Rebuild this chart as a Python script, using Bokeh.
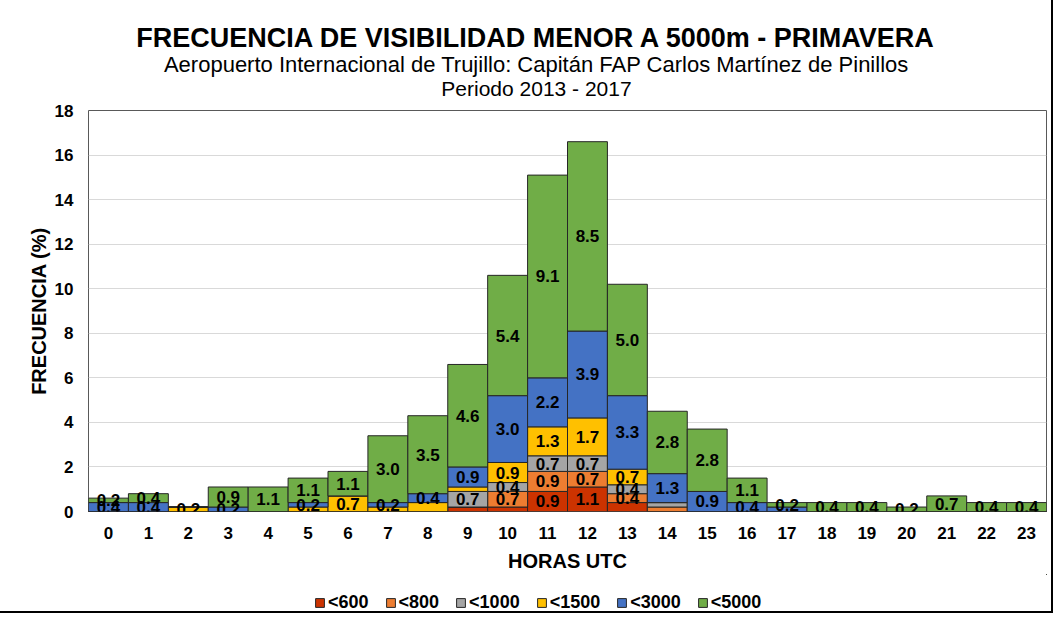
from bokeh.plotting import figure
from bokeh.layouts import column
from bokeh.models import ColumnDataSource, FixedTicker, Legend, LegendItem, Range1d
from bokeh.core.properties import value
from bokeh.embed import file_html
from bokeh.resources import INLINE

hours = list(range(24))
series = ["<600", "<800", "<1000", "<1500", "<3000", "<5000"]
colors = ["#CC3300", "#ED7D31", "#A5A5A5", "#FFC000", "#4472C4", "#70AD47"]

v600 = [0, 0, 0, 0, 0, 0, 0, 0, 0, 0.2, 0.2, 0.9, 1.1, 0.4, 0, 0, 0, 0, 0, 0, 0, 0, 0, 0]
v800 = [0, 0, 0, 0, 0, 0, 0, 0, 0, 0, 0.7, 0.9, 0.7, 0.4, 0.2, 0, 0, 0, 0, 0, 0, 0, 0, 0]
v1000 = [0, 0, 0, 0, 0, 0, 0, 0, 0, 0.7, 0.4, 0.7, 0.7, 0.4, 0.2, 0, 0, 0, 0, 0, 0, 0, 0, 0]
v1500 = [0, 0, 0.2, 0, 0, 0.2, 0.7, 0.2, 0.4, 0.2, 0.9, 1.3, 1.7, 0.7, 0, 0, 0, 0, 0, 0, 0, 0, 0, 0]
v3000 = [0.4, 0.4, 0, 0.2, 0, 0.2, 0, 0.2, 0.4, 0.9, 3.0, 2.2, 3.9, 3.3, 1.3, 0.9, 0.4, 0.2, 0, 0, 0, 0, 0, 0]
v5000 = [0.2, 0.4, 0, 0.9, 1.1, 1.1, 1.1, 3.0, 3.5, 4.6, 5.4, 9.1, 8.5, 5.0, 2.8, 2.8, 1.1, 0.2, 0.4, 0.4, 0.2, 0.7, 0.4, 0.4]
values = [v600, v800, v1000, v1500, v3000, v5000]

# data labels that are not shown in the original
hidden_labels = {(5, "<1500"), (7, "<1500"), (8, "<1500"), (9, "<600"), (9, "<1500"),
                 (10, "<600"), (13, "<600"), (14, "<800"), (14, "<1000"), (17, "<3000")}

y_ticks = [0, 2, 4, 6, 8, 10, 12, 14, 16, 18]

title_main = "FRECUENCIA DE VISIBILIDAD MENOR A 5000m - PRIMAVERA"
title_sub = "Aeropuerto Internacional de Trujillo: Capitán FAP Carlos Martínez de Pinillos"
title_period = "Periodo 2013 - 2017"
x_title = "HORAS UTC"
y_title = "FRECUENCIA (%)"

FONT = "Liberation Sans"
W = 1051
H0 = 100
H1 = 474
H2 = 37
FRAME_L = 88
FRAME_R = 1046

data = {"hour": hours}
for s, v in zip(series, values):
    data[s] = v
src = ColumnDataSource(data)

# label positions
lx, ly, lt = [], [], []
bottoms = [0.0] * len(hours)
for s, v in zip(series, values):
    for i, h in enumerate(hours):
        if v[i] > 0 and (h, s) not in hidden_labels:
            lx.append(h)
            ly.append(bottoms[i] + v[i] / 2)
            lt.append(f"{v[i]:.1f}")
    bottoms = [b + x for b, x in zip(bottoms, v)]
lsrc = ColumnDataSource({"x": lx, "y": ly, "t": lt})

# ---- header with the titles (pixel layout space; its frame is aligned with the chart's frame)
ph = figure(width=W, height=H0, output_backend="svg", toolbar_location=None,
            x_range=Range1d(FRAME_L, FRAME_R), y_range=Range1d(H0, 0),
            x_axis_location=None, y_axis_location=None,
            min_border=0, min_border_left=0, min_border_right=0,
            min_border_top=0, min_border_bottom=0)
ph.grid.visible = False
ph.outline_line_color = None
ph.text(x=[536], y=[37], text=[title_main], text_align="center", text_baseline="middle",
        text_font=value(FONT), text_font_size="27px", text_font_style="bold", text_color="black")
ph.text(x=[536], y=[64], text=[title_sub], text_align="center", text_baseline="middle",
        text_font=value(FONT), text_font_size="22px", text_color="black")
ph.text(x=[536], y=[H0 - 0.5], text=[title_period], text_align="center", text_baseline="bottom",
        text_font=value(FONT), text_font_size="21px", text_color="black")

# ---- main chart
p = figure(width=W, height=H1, output_backend="svg", toolbar_location=None,
           x_range=Range1d(-0.5, 23.5), y_range=Range1d(0, 18),
           min_border_left=FRAME_L, min_border_right=W - FRAME_R,
           min_border_top=10, min_border_bottom=62)

renderers = p.vbar_stack(series, x="hour", width=1.0, color=colors, line_color="#262626",
                         line_width=1, source=src)

p.text(x="x", y="y", text="t", source=lsrc, text_align="center", text_baseline="middle",
       text_font=value(FONT), text_font_size="17px", text_font_style="bold", text_color="black")

p.xgrid.grid_line_color = None
p.ygrid.grid_line_color = "#D9D9D9"
p.ygrid.grid_line_width = 1
p.outline_line_color = "#595959"
p.outline_line_width = 1

p.xaxis.ticker = FixedTicker(ticks=hours)
p.yaxis.ticker = FixedTicker(ticks=y_ticks)
for ax in (p.xaxis[0], p.yaxis[0]):
    ax.axis_line_color = None
    ax.major_tick_line_color = None
    ax.minor_tick_line_color = None
    ax.major_label_text_font = FONT
    ax.major_label_text_font_size = "17px"
    ax.major_label_text_font_style = "bold"
    ax.major_label_text_color = "black"
    ax.axis_label_text_font = FONT
    ax.axis_label_text_font_style = "bold"
    ax.axis_label_text_font_size = "20px"
    ax.axis_label_text_color = "black"
p.xaxis.axis_label = x_title
p.yaxis.axis_label = y_title
p.xaxis.major_label_standoff = 9
p.yaxis.major_label_standoff = 9
p.xaxis.axis_label_standoff = 8
p.yaxis.axis_label_standoff = 2

# ---- legend panel
pl = figure(width=W, height=H2, output_backend="svg", toolbar_location=None,
            x_range=Range1d(0, 1), y_range=Range1d(0, 1), min_border=0)
pl.axis.visible = False
pl.grid.visible = False
pl.outline_line_color = None
leg_renderers = [pl.vbar(x=[5], top=[6], bottom=[5], width=0.1, fill_color=c, line_color="#262626")
                 for c in colors]
legend = Legend(items=[LegendItem(label=s, renderers=[r]) for s, r in zip(series, leg_renderers)],
                orientation="horizontal", location=(226, -2),
                label_text_font=FONT, label_text_font_size="18px", label_text_font_style="bold",
                label_text_color="black", glyph_width=11, glyph_height=11, spacing=16,
                label_standoff=3, border_line_color=None, background_fill_alpha=0,
                margin=0, padding=0)
pl.add_layout(legend, "center")

layout = column(ph, p, pl, spacing=0, styles={"outline": "2px solid black"})

open("out.html", "w").write(file_html(layout, INLINE))
